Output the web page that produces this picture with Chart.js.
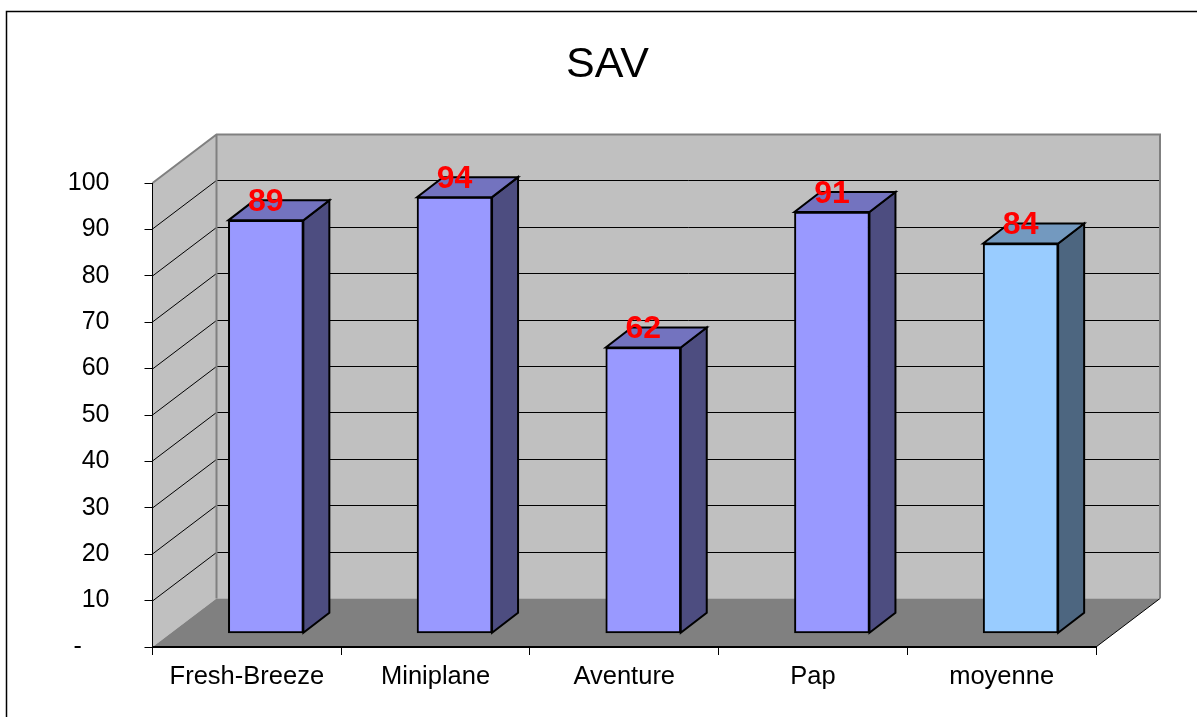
<!DOCTYPE html>
<html>
<head>
<meta charset="utf-8">
<title>SAV</title>
<style>
  html, body { margin: 0; padding: 0; background: #fff; }
  canvas { display: block; }
</style>
<script src="https://cdn.jsdelivr.net/npm/chart.js@4"></script>
</head>
<body>
<canvas id="savChart" width="1197" height="717"></canvas>
<script>
const categories = ['Fresh-Breeze', 'Miniplane', 'Aventure', 'Pap', 'moyenne'];
const savValues = [89, 94, 61.6, 90.8, 84];
const tickStep = 10;
const tickMax = 100;

const frontColors = ['#9999ff', '#9999ff', '#9999ff', '#9999ff', '#99ccff'];
const sideColors = ['#4d4d80', '#4d4d80', '#4d4d80', '#4d4d80', '#4d6680'];
const topColors = ['#7373bf', '#7373bf', '#7373bf', '#7373bf', '#7399bf'];

const fontName = '"Liberation Sans", Arial, sans-serif';

// fake 3d: how far the back wall and the bars sit behind the front plane
const wallDepth = { x: 64, y: 48.5 };
const barShift = { x: 19, y: 13.7 };
const barDepth = { x: 26, y: 20 };

function poly(ctx, pts, fill, stroke, lineWidth) {
  ctx.beginPath();
  pts.forEach((p, i) => i ? ctx.lineTo(p[0], p[1]) : ctx.moveTo(p[0], p[1]));
  ctx.closePath();
  if (fill) {
    ctx.fillStyle = fill;
    ctx.fill();
  }
  if (stroke) {
    ctx.strokeStyle = stroke;
    ctx.lineWidth = lineWidth;
    ctx.stroke();
  }
}

const box3d = {
  id: 'box3d',
  afterLayout: chart => {
    // title is centred a bit off the plot, on the whole frame
    chart.titleBlock.left = 18;
    chart.titleBlock.right = 1197;
  },
  beforeDraw: chart => {
    const { ctx, scales: { x, y } } = chart;
    const dx = wallDepth.x;
    const dy = wallDepth.y;
    const y0 = y.getPixelForValue(0);
    const yTop = y.getPixelForValue(tickMax);

    ctx.save();
    ctx.fillStyle = '#fff';
    ctx.fillRect(0, 0, chart.width, chart.height);

    // frame, runs off the right and bottom of the picture
    ctx.strokeStyle = '#000';
    ctx.lineWidth = 1.5;
    ctx.strokeRect(6.5, 11.5, chart.width, chart.height);

    // side wall and back wall
    poly(ctx, [[x.left, yTop], [x.left + dx, yTop - dy], [x.left + dx, y0 - dy], [x.left, y0]], '#c0c0c0');
    poly(ctx, [[x.left + dx, yTop - dy], [x.right + dx, yTop - dy], [x.right + dx, y0 - dy], [x.left + dx, y0 - dy]], '#c0c0c0');

    // grid lines run along the side wall then across the back
    ctx.strokeStyle = '#000';
    ctx.lineWidth = 1;
    for (let v = tickStep; v < tickMax; v += tickStep) {
      const py = Math.round(y.getPixelForValue(v));
      ctx.beginPath();
      ctx.moveTo(x.left, py);
      ctx.lineTo(x.left + dx, py - dy);
      ctx.moveTo(x.left + dx, py - dy);
      ctx.lineTo(x.right + dx, py - dy);
      ctx.stroke();
    }

    // floor
    poly(ctx, [[x.left, y0], [x.right, y0], [x.right + dx, y0 - dy], [x.left + dx, y0 - dy]], '#808080');
    ctx.strokeStyle = '#000';
    ctx.beginPath();
    ctx.moveTo(x.right, y0);
    ctx.lineTo(x.right + dx, y0 - dy);
    ctx.stroke();

    // wall outline
    ctx.strokeStyle = '#808080';
    ctx.lineWidth = 2;
    ctx.beginPath();
    ctx.moveTo(x.left, yTop);
    ctx.lineTo(x.left + dx, yTop - dy);
    ctx.lineTo(x.right + dx, yTop - dy);
    ctx.lineTo(x.right + dx, y0 - dy);
    ctx.moveTo(x.left + dx, yTop - dy);
    ctx.lineTo(x.left + dx, y0 - dy);
    ctx.stroke();
    ctx.restore();
  },
  beforeDatasetsDraw: chart => {
    chart.ctx.save();
    chart.ctx.translate(barShift.x, -barShift.y);
  },
  afterDatasetsDraw: chart => {
    const ctx = chart.ctx;
    const bars = chart.getDatasetMeta(0).data;
    const dx = barDepth.x;
    const dy = barDepth.y;

    bars.forEach((bar, i) => {
      const l = bar.x - bar.width / 2;
      const r = bar.x + bar.width / 2;
      poly(ctx, [[r, bar.y], [r + dx, bar.y - dy], [r + dx, bar.base - dy], [r, bar.base]], sideColors[i], '#000', 2);
      poly(ctx, [[l, bar.y], [r, bar.y], [r + dx, bar.y - dy], [l + dx, bar.y - dy]], topColors[i], '#000', 2);
    });

    // value labels go last, they sit over the bar tops
    ctx.fillStyle = '#ff0000';
    ctx.font = 'bold 32px ' + fontName;
    ctx.textAlign = 'center';
    ctx.textBaseline = 'middle';
    bars.forEach((bar, i) => {
      ctx.fillText(String(Math.round(savValues[i])), bar.x, bar.y - 18);
    });
    ctx.restore();
  }
};

new Chart(document.getElementById('savChart'), {
  type: 'bar',
  data: {
    labels: categories,
    datasets: [{
      label: 'SAV',
      data: savValues,
      backgroundColor: frontColors,
      borderColor: '#000',
      borderWidth: 2,
      borderSkipped: false,
      barThickness: 75,
      clip: false
    }]
  },
  options: {
    responsive: false,
    animation: false,
    layout: { padding: { right: 101 } },
    plugins: {
      legend: { display: false },
      tooltip: { enabled: false },
      title: {
        display: true,
        text: 'SAV',
        color: '#000',
        font: { family: fontName, size: 43, weight: 'normal', lineHeight: 1.2 },
        padding: { top: 39, bottom: 92.4 }
      }
    },
    scales: {
      x: {
        afterFit: scale => { scale.height = 70; },
        border: { color: '#000', width: 2 },
        grid: { drawOnChartArea: false, color: '#000', tickLength: 8 },
        ticks: {
          color: '#000',
          font: { family: fontName, size: 25.5 },
          padding: 7,
          maxRotation: 0
        }
      },
      y: {
        min: 0,
        max: tickMax,
        afterFit: scale => { scale.width = 152.5; },
        border: { color: '#000', width: 1 },
        grid: { drawOnChartArea: false, color: '#000', tickLength: 8 },
        ticks: {
          stepSize: tickStep,
          color: '#000',
          font: { family: fontName, size: 25 },
          padding: 35,
          callback: v => v === 0 ? '-    ' : v
        }
      }
    }
  },
  plugins: [box3d]
});
</script>
</body>
</html>
